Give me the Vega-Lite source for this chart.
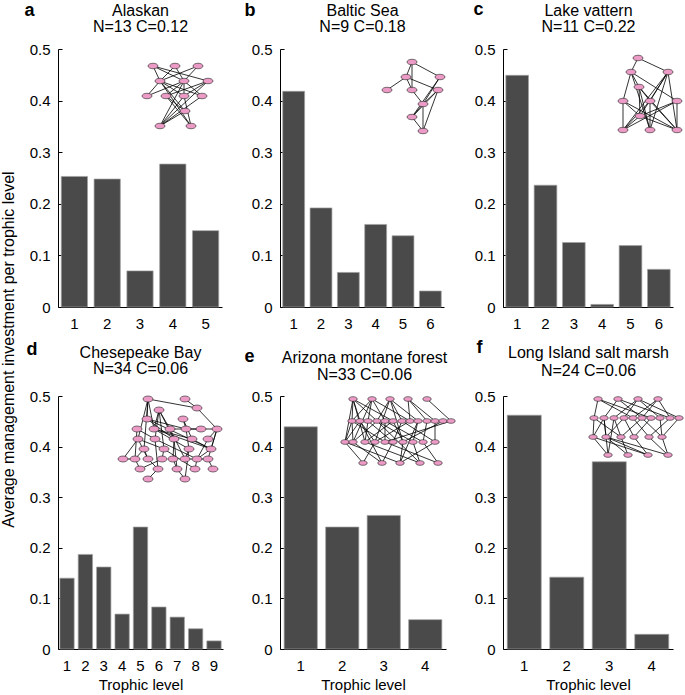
{
"$schema": "https://vega.github.io/schema/vega-lite/v6.json",
"padding": {"left": 0, "top": 0, "right": 4, "bottom": 4},
"background": "white",
"config": {
  "font": "Liberation Sans",
  "view": {"stroke": null},
  "axis": {"domainColor": "black", "labelColor": "black", "titleColor": "black", "tickColor": "black", "grid": false, "labelFontSize": 15, "titleFontSize": 15, "titleFontWeight": "normal"}
},
"datasets": {
  "bars": [
    {"p":"a","level":1,"v":0.253},{"p":"a","level":2,"v":0.248},{"p":"a","level":3,"v":0.070},{"p":"a","level":4,"v":0.277},{"p":"a","level":5,"v":0.148},
    {"p":"b","level":1,"v":0.418},{"p":"b","level":2,"v":0.192},{"p":"b","level":3,"v":0.067},{"p":"b","level":4,"v":0.160},{"p":"b","level":5,"v":0.138},{"p":"b","level":6,"v":0.031},
    {"p":"c","level":1,"v":0.449},{"p":"c","level":2,"v":0.236},{"p":"c","level":3,"v":0.125},{"p":"c","level":4,"v":0.005},{"p":"c","level":5,"v":0.119},{"p":"c","level":6,"v":0.073},
    {"p":"d","level":1,"v":0.140},{"p":"d","level":2,"v":0.187},{"p":"d","level":3,"v":0.162},{"p":"d","level":4,"v":0.069},{"p":"d","level":5,"v":0.241},{"p":"d","level":6,"v":0.083},{"p":"d","level":7,"v":0.063},{"p":"d","level":8,"v":0.040},{"p":"d","level":9,"v":0.016},
    {"p":"e","level":1,"v":0.439},{"p":"e","level":2,"v":0.241},{"p":"e","level":3,"v":0.264},{"p":"e","level":4,"v":0.058},
    {"p":"f","level":1,"v":0.462},{"p":"f","level":2,"v":0.142},{"p":"f","level":3,"v":0.370},{"p":"f","level":4,"v":0.029}
  ],
  "nodes": [
    {"p":"a","id":"a0","x":15,"y":9},{"p":"a","id":"a1","x":37,"y":9},{"p":"a","id":"a2","x":60,"y":9},
    {"p":"a","id":"a3","x":22,"y":24},{"p":"a","id":"a4","x":46,"y":24},{"p":"a","id":"a5","x":70,"y":24},
    {"p":"a","id":"a6","x":9,"y":39},{"p":"a","id":"a7","x":28,"y":39},{"p":"a","id":"a8","x":46,"y":39},{"p":"a","id":"a9","x":64,"y":39},
    {"p":"a","id":"a10","x":47,"y":54},{"p":"a","id":"a11","x":22,"y":69},{"p":"a","id":"a12","x":53,"y":69},
    {"p":"b","id":"b0","x":35,"y":7},{"p":"b","id":"b1","x":29,"y":22},{"p":"b","id":"b2","x":63,"y":22},
    {"p":"b","id":"b3","x":10,"y":35},{"p":"b","id":"b4","x":35,"y":35},{"p":"b","id":"b5","x":61,"y":35},
    {"p":"b","id":"b6","x":46,"y":49},{"p":"b","id":"b7","x":35,"y":62},{"p":"b","id":"b8","x":46,"y":76},
    {"p":"c","id":"c0","x":27,"y":9},{"p":"c","id":"c1","x":20,"y":23},{"p":"c","id":"c2","x":57,"y":23},
    {"p":"c","id":"c3","x":28,"y":38},{"p":"c","id":"c4","x":12,"y":52},{"p":"c","id":"c5","x":39,"y":52},{"p":"c","id":"c6","x":66,"y":52},
    {"p":"c","id":"c7","x":29,"y":67},{"p":"c","id":"c8","x":12,"y":81},{"p":"c","id":"c9","x":39,"y":81},{"p":"c","id":"c10","x":66,"y":81},
    {"p":"d","id":"d0","x":148,"y":60},{"p":"d","id":"d1","x":185,"y":60},{"p":"d","id":"d2","x":159,"y":71},{"p":"d","id":"d3","x":197,"y":69},
    {"p":"d","id":"d4","x":147,"y":80},{"p":"d","id":"d5","x":183,"y":80},
    {"p":"d","id":"d6","x":137,"y":90},{"p":"d","id":"d7","x":154,"y":90},{"p":"d","id":"d8","x":170,"y":90},{"p":"d","id":"d9","x":186,"y":90},{"p":"d","id":"d10","x":201,"y":90},{"p":"d","id":"d11","x":217,"y":90},
    {"p":"d","id":"d12","x":138,"y":100},{"p":"d","id":"d13","x":155,"y":100},{"p":"d","id":"d14","x":174,"y":100},{"p":"d","id":"d15","x":192,"y":100},{"p":"d","id":"d34","x":208,"y":100},
    {"p":"d","id":"d16","x":144,"y":110},{"p":"d","id":"d17","x":164,"y":110},{"p":"d","id":"d18","x":189,"y":110},{"p":"d","id":"d19","x":211,"y":110},
    {"p":"d","id":"d20","x":123,"y":120},{"p":"d","id":"d21","x":135,"y":120},{"p":"d","id":"d22","x":148,"y":120},{"p":"d","id":"d23","x":162,"y":120},{"p":"d","id":"d24","x":173,"y":120},{"p":"d","id":"d25","x":185,"y":120},{"p":"d","id":"d26","x":197,"y":120},{"p":"d","id":"d27","x":208,"y":120},
    {"p":"d","id":"d28","x":140,"y":130},{"p":"d","id":"d29","x":158,"y":130},{"p":"d","id":"d30","x":177,"y":130},{"p":"d","id":"d31","x":195,"y":130},{"p":"d","id":"d35","x":213,"y":130},
    {"p":"d","id":"d32","x":148,"y":140},{"p":"d","id":"d33","x":185,"y":140},
    {"p":"e","id":"e0","x":18,"y":7},{"p":"e","id":"e1","x":37,"y":7},{"p":"e","id":"e2","x":55,"y":7},{"p":"e","id":"e3","x":73,"y":7},{"p":"e","id":"e4","x":92,"y":7},
    {"p":"e","id":"e5","x":17,"y":29},{"p":"e","id":"e6","x":25,"y":29},{"p":"e","id":"e7","x":33,"y":29},{"p":"e","id":"e8","x":42,"y":29},{"p":"e","id":"e9","x":50,"y":29},{"p":"e","id":"e10","x":58,"y":29},{"p":"e","id":"e11","x":67,"y":29},{"p":"e","id":"e12","x":75,"y":29},{"p":"e","id":"e13","x":83,"y":29},{"p":"e","id":"e14","x":92,"y":29},{"p":"e","id":"e15","x":100,"y":29},{"p":"e","id":"e16","x":108,"y":29},{"p":"e","id":"e17","x":116,"y":29},
    {"p":"e","id":"e18","x":10,"y":50},{"p":"e","id":"e19","x":18,"y":50},{"p":"e","id":"e20","x":30,"y":50},{"p":"e","id":"e21","x":40,"y":50},{"p":"e","id":"e22","x":50,"y":50},{"p":"e","id":"e23","x":58,"y":50},{"p":"e","id":"e24","x":68,"y":50},{"p":"e","id":"e25","x":78,"y":50},{"p":"e","id":"e26","x":88,"y":50},{"p":"e","id":"e27","x":100,"y":50},
    {"p":"e","id":"e28","x":28,"y":71},{"p":"e","id":"e29","x":47,"y":71},{"p":"e","id":"e30","x":65,"y":71},{"p":"e","id":"e31","x":85,"y":71},{"p":"e","id":"e32","x":103,"y":71},
    {"p":"f","id":"f0","x":15,"y":7},{"p":"f","id":"f1","x":35,"y":7},{"p":"f","id":"f2","x":55,"y":7},{"p":"f","id":"f3","x":75,"y":7},
    {"p":"f","id":"f4","x":11,"y":26},{"p":"f","id":"f5","x":21,"y":26},{"p":"f","id":"f6","x":31,"y":26},{"p":"f","id":"f7","x":41,"y":26},{"p":"f","id":"f8","x":50,"y":26},{"p":"f","id":"f9","x":59,"y":26},{"p":"f","id":"f10","x":68,"y":26},{"p":"f","id":"f11","x":77,"y":26},{"p":"f","id":"f12","x":87,"y":26},{"p":"f","id":"f13","x":96,"y":26},
    {"p":"f","id":"f14","x":10,"y":45},{"p":"f","id":"f15","x":23,"y":45},{"p":"f","id":"f16","x":38,"y":45},{"p":"f","id":"f17","x":51,"y":45},{"p":"f","id":"f18","x":66,"y":45},{"p":"f","id":"f19","x":79,"y":45},
    {"p":"f","id":"f20","x":25,"y":63},{"p":"f","id":"f21","x":45,"y":63},{"p":"f","id":"f22","x":65,"y":63},{"p":"f","id":"f23","x":85,"y":63}
  ],
  "edges": [
    {"p":"a","s":"a0","t":"a3"},{"p":"a","s":"a0","t":"a4"},{"p":"a","s":"a0","t":"a5"},{"p":"a","s":"a1","t":"a3"},{"p":"a","s":"a1","t":"a4"},{"p":"a","s":"a2","t":"a4"},{"p":"a","s":"a2","t":"a3"},{"p":"a","s":"a3","t":"a6"},{"p":"a","s":"a3","t":"a8"},{"p":"a","s":"a3","t":"a9"},{"p":"a","s":"a3","t":"a10"},{"p":"a","s":"a4","t":"a7"},{"p":"a","s":"a4","t":"a8"},{"p":"a","s":"a4","t":"a11"},{"p":"a","s":"a4","t":"a9"},{"p":"a","s":"a5","t":"a7"},{"p":"a","s":"a5","t":"a8"},{"p":"a","s":"a5","t":"a11"},{"p":"a","s":"a7","t":"a10"},{"p":"a","s":"a7","t":"a12"},{"p":"a","s":"a8","t":"a11"},{"p":"a","s":"a8","t":"a12"},{"p":"a","s":"a9","t":"a11"},{"p":"a","s":"a10","t":"a11"},{"p":"a","s":"a6","t":"a4"},{"p":"a","s":"a3","t":"a12"},
    {"p":"b","s":"b0","t":"b1"},{"p":"b","s":"b0","t":"b2"},{"p":"b","s":"b0","t":"b4"},{"p":"b","s":"b1","t":"b3"},{"p":"b","s":"b1","t":"b4"},{"p":"b","s":"b1","t":"b5"},{"p":"b","s":"b2","t":"b6"},{"p":"b","s":"b2","t":"b7"},{"p":"b","s":"b4","t":"b6"},{"p":"b","s":"b5","t":"b6"},{"p":"b","s":"b5","t":"b7"},{"p":"b","s":"b5","t":"b8"},{"p":"b","s":"b6","t":"b8"},{"p":"b","s":"b7","t":"b8"},{"p":"b","s":"b6","t":"b7"},
    {"p":"c","s":"c0","t":"c1"},{"p":"c","s":"c0","t":"c2"},{"p":"c","s":"c1","t":"c3"},{"p":"c","s":"c1","t":"c4"},{"p":"c","s":"c1","t":"c6"},{"p":"c","s":"c1","t":"c9"},{"p":"c","s":"c2","t":"c7"},{"p":"c","s":"c2","t":"c8"},{"p":"c","s":"c2","t":"c9"},{"p":"c","s":"c2","t":"c10"},{"p":"c","s":"c2","t":"c5"},{"p":"c","s":"c3","t":"c5"},{"p":"c","s":"c3","t":"c7"},{"p":"c","s":"c3","t":"c10"},{"p":"c","s":"c3","t":"c9"},{"p":"c","s":"c4","t":"c8"},{"p":"c","s":"c4","t":"c7"},{"p":"c","s":"c4","t":"c10"},{"p":"c","s":"c5","t":"c8"},{"p":"c","s":"c5","t":"c9"},{"p":"c","s":"c5","t":"c10"},{"p":"c","s":"c6","t":"c7"},{"p":"c","s":"c6","t":"c10"},{"p":"c","s":"c7","t":"c8"},{"p":"c","s":"c7","t":"c10"},{"p":"c","s":"c8","t":"c6"},
    {"p":"d","s":"d0","t":"d3"},{"p":"d","s":"d0","t":"d4"},{"p":"d","s":"d0","t":"d7"},{"p":"d","s":"d0","t":"d12"},{"p":"d","s":"d0","t":"d16"},{"p":"d","s":"d1","t":"d3"},{"p":"d","s":"d2","t":"d7"},{"p":"d","s":"d2","t":"d8"},{"p":"d","s":"d2","t":"d14"},{"p":"d","s":"d2","t":"d17"},{"p":"d","s":"d2","t":"d13"},{"p":"d","s":"d3","t":"d11"},{"p":"d","s":"d4","t":"d9"},{"p":"d","s":"d4","t":"d14"},{"p":"d","s":"d5","t":"d9"},{"p":"d","s":"d5","t":"d15"},{"p":"d","s":"d6","t":"d13"},{"p":"d","s":"d6","t":"d21"},{"p":"d","s":"d7","t":"d18"},{"p":"d","s":"d7","t":"d19"},{"p":"d","s":"d8","t":"d10"},{"p":"d","s":"d8","t":"d25"},{"p":"d","s":"d9","t":"d10"},{"p":"d","s":"d10","t":"d11"},{"p":"d","s":"d11","t":"d19"},{"p":"d","s":"d11","t":"d27"},{"p":"d","s":"d12","t":"d22"},{"p":"d","s":"d12","t":"d20"},{"p":"d","s":"d13","t":"d26"},{"p":"d","s":"d13","t":"d29"},{"p":"d","s":"d14","t":"d24"},{"p":"d","s":"d14","t":"d30"},{"p":"d","s":"d15","t":"d19"},{"p":"d","s":"d16","t":"d21"},{"p":"d","s":"d16","t":"d22"},{"p":"d","s":"d17","t":"d23"},{"p":"d","s":"d17","t":"d31"},{"p":"d","s":"d18","t":"d25"},{"p":"d","s":"d18","t":"d33"},{"p":"d","s":"d19","t":"d26"},{"p":"d","s":"d20","t":"d21"},{"p":"d","s":"d22","t":"d29"},{"p":"d","s":"d23","t":"d28"},{"p":"d","s":"d24","t":"d30"},{"p":"d","s":"d25","t":"d26"},{"p":"d","s":"d26","t":"d31"},{"p":"d","s":"d27","t":"d26"},{"p":"d","s":"d29","t":"d32"},{"p":"d","s":"d30","t":"d33"},{"p":"d","s":"d28","t":"d21"},{"p":"d","s":"d9","t":"d18"},{"p":"d","s":"d4","t":"d19"},{"p":"d","s":"d7","t":"d15"},{"p":"d","s":"d12","t":"d17"},{"p":"d","s":"d34","t":"d11"},{"p":"d","s":"d35","t":"d27"},{"p":"d","s":"d34","t":"d26"},
    {"p":"e","s":"e0","t":"e5"},{"p":"e","s":"e0","t":"e6"},{"p":"e","s":"e0","t":"e8"},{"p":"e","s":"e0","t":"e10"},{"p":"e","s":"e0","t":"e18"},{"p":"e","s":"e0","t":"e20"},{"p":"e","s":"e1","t":"e5"},{"p":"e","s":"e1","t":"e7"},{"p":"e","s":"e1","t":"e9"},{"p":"e","s":"e1","t":"e12"},{"p":"e","s":"e1","t":"e19"},{"p":"e","s":"e2","t":"e8"},{"p":"e","s":"e2","t":"e11"},{"p":"e","s":"e2","t":"e13"},{"p":"e","s":"e2","t":"e21"},{"p":"e","s":"e2","t":"e24"},{"p":"e","s":"e3","t":"e12"},{"p":"e","s":"e3","t":"e14"},{"p":"e","s":"e3","t":"e15"},{"p":"e","s":"e4","t":"e17"},{"p":"e","s":"e5","t":"e18"},{"p":"e","s":"e5","t":"e19"},{"p":"e","s":"e5","t":"e22"},{"p":"e","s":"e6","t":"e18"},{"p":"e","s":"e6","t":"e21"},{"p":"e","s":"e7","t":"e20"},{"p":"e","s":"e7","t":"e23"},{"p":"e","s":"e8","t":"e19"},{"p":"e","s":"e8","t":"e25"},{"p":"e","s":"e9","t":"e22"},{"p":"e","s":"e9","t":"e26"},{"p":"e","s":"e10","t":"e20"},{"p":"e","s":"e10","t":"e24"},{"p":"e","s":"e11","t":"e23"},{"p":"e","s":"e11","t":"e27"},{"p":"e","s":"e12","t":"e21"},{"p":"e","s":"e13","t":"e25"},{"p":"e","s":"e14","t":"e26"},{"p":"e","s":"e15","t":"e27"},{"p":"e","s":"e16","t":"e24"},{"p":"e","s":"e17","t":"e22"},{"p":"e","s":"e18","t":"e28"},{"p":"e","s":"e18","t":"e30"},{"p":"e","s":"e19","t":"e29"},{"p":"e","s":"e20","t":"e31"},{"p":"e","s":"e21","t":"e28"},{"p":"e","s":"e22","t":"e32"},{"p":"e","s":"e23","t":"e29"},{"p":"e","s":"e24","t":"e30"},{"p":"e","s":"e25","t":"e31"},{"p":"e","s":"e26","t":"e32"},{"p":"e","s":"e27","t":"e30"},{"p":"e","s":"e6","t":"e29"},{"p":"e","s":"e8","t":"e31"},{"p":"e","s":"e13","t":"e30"},
    {"p":"f","s":"f0","t":"f4"},{"p":"f","s":"f0","t":"f8"},{"p":"f","s":"f0","t":"f10"},{"p":"f","s":"f1","t":"f5"},{"p":"f","s":"f1","t":"f9"},{"p":"f","s":"f1","t":"f12"},{"p":"f","s":"f2","t":"f7"},{"p":"f","s":"f2","t":"f11"},{"p":"f","s":"f2","t":"f13"},{"p":"f","s":"f2","t":"f6"},{"p":"f","s":"f3","t":"f9"},{"p":"f","s":"f3","t":"f12"},{"p":"f","s":"f3","t":"f8"},{"p":"f","s":"f4","t":"f14"},{"p":"f","s":"f5","t":"f15"},{"p":"f","s":"f5","t":"f14"},{"p":"f","s":"f6","t":"f16"},{"p":"f","s":"f6","t":"f20"},{"p":"f","s":"f7","t":"f15"},{"p":"f","s":"f7","t":"f17"},{"p":"f","s":"f8","t":"f18"},{"p":"f","s":"f9","t":"f16"},{"p":"f","s":"f9","t":"f19"},{"p":"f","s":"f10","t":"f17"},{"p":"f","s":"f11","t":"f19"},{"p":"f","s":"f12","t":"f18"},{"p":"f","s":"f13","t":"f19"},{"p":"f","s":"f14","t":"f20"},{"p":"f","s":"f15","t":"f21"},{"p":"f","s":"f15","t":"f22"},{"p":"f","s":"f16","t":"f21"},{"p":"f","s":"f17","t":"f22"},{"p":"f","s":"f18","t":"f23"},{"p":"f","s":"f19","t":"f23"},{"p":"f","s":"f5","t":"f20"},{"p":"f","s":"f4","t":"f16"},{"p":"f","s":"f14","t":"f22"},{"p":"f","s":"f15","t":"f23"}
  ]
},
"bounds": "flush",
"columns": 3,
"spacing": {"row": 89, "column": 57},
"concat": [
  {"width": 164, "height": 258,
   "layer": [
    {"data": {"name": "bars"}, "transform": [{"filter": "datum.p == 'a'"}],
     "mark": {"type": "bar", "fill": "#4a4a4a", "stroke": "#a0a0a0", "strokeWidth": 0.7},
     "encoding": {
      "x": {"field": "level", "type": "ordinal", "scale": {"paddingInner": 0.2, "paddingOuter": 0.1}, "axis": {"title": null, "labelAngle": 0, "ticks": false, "labelPadding": 9}},
      "y": {"field": "v", "type": "quantitative", "scale": {"domain": [0, 0.5], "nice": false}, "axis": {"values": [0, 0.1, 0.2, 0.3, 0.4, 0.5], "format": ".1~f", "tickSize": -4, "labelPadding": 12, "title": "Average management investment per trophic level", "titleX": -50, "titleY": 300, "titleAngle": 270, "titleAlign": "center", "titleBaseline": "middle", "titleFontSize": 16}}}},
    {"data": {"name": "edges"}, "transform": [{"filter": "datum.p == 'a'"}, {"lookup": "s", "from": {"data": {"name": "nodes"}, "key": "id", "fields": ["x", "y"]}, "as": ["sx", "sy"]}, {"lookup": "t", "from": {"data": {"name": "nodes"}, "key": "id", "fields": ["x", "y"]}, "as": ["tx", "ty"]}],
     "mark": {"type": "rule", "color": "black", "strokeWidth": 0.8},
     "encoding": {"x": {"field": "sx", "type": "quantitative", "scale": {"domain": [-80, 84], "nice": false, "zero": false}, "axis": null}, "y": {"field": "sy", "type": "quantitative", "scale": {"domain": [-8, 250], "nice": false, "zero": false, "reverse": true}, "axis": null}, "x2": {"field": "tx"}, "y2": {"field": "ty"}}},
    {"data": {"name": "nodes"}, "transform": [{"filter": "datum.p == 'a'"}],
     "mark": {"type": "point", "shape": "M-1,0A1,0.55,0,1,1,1,0A1,0.55,0,1,1,-1,0Z", "filled": true, "fill": "#ec9ac6", "stroke": "#222222", "strokeWidth": 0.6, "size": 100, "opacity": 1},
     "encoding": {"x": {"field": "x", "type": "quantitative", "scale": {"domain": [-80, 84], "nice": false, "zero": false}, "axis": {"orient": "top", "title": ["Alaskan", "N=13 C=0.12"], "labels": false, "ticks": false, "domain": false, "titleX": 82, "titleY": -33.5, "titleAngle": 0, "titleAlign": "center", "titleBaseline": "alphabetic", "titleFontSize": 16, "titleLineHeight": 16}}, "y": {"field": "y", "type": "quantitative", "scale": {"domain": [-8, 250], "nice": false, "zero": false, "reverse": true}, "axis": {"orient": "left", "title": "a", "labels": false, "ticks": false, "domain": false, "titleX": -34, "titleY": -34, "titleAngle": 0, "titleAlign": "left", "titleBaseline": "alphabetic", "titleFontSize": 18, "titleFontWeight": "bold"}}}}
   ],
   "resolve": {"scale": {"x": "independent", "y": "independent"}}},
  {"width": 164, "height": 258,
   "layer": [
    {"data": {"name": "bars"}, "transform": [{"filter": "datum.p == 'b'"}],
     "mark": {"type": "bar", "fill": "#4a4a4a", "stroke": "#a0a0a0", "strokeWidth": 0.7},
     "encoding": {
      "x": {"field": "level", "type": "ordinal", "scale": {"paddingInner": 0.2, "paddingOuter": 0.1}, "axis": {"title": null, "labelAngle": 0, "ticks": false, "labelPadding": 9}},
      "y": {"field": "v", "type": "quantitative", "scale": {"domain": [0, 0.5], "nice": false}, "axis": {"values": [0, 0.1, 0.2, 0.3, 0.4, 0.5], "format": ".1~f", "tickSize": -4, "labelPadding": 12, "title": null}}}},
    {"data": {"name": "edges"}, "transform": [{"filter": "datum.p == 'b'"}, {"lookup": "s", "from": {"data": {"name": "nodes"}, "key": "id", "fields": ["x", "y"]}, "as": ["sx", "sy"]}, {"lookup": "t", "from": {"data": {"name": "nodes"}, "key": "id", "fields": ["x", "y"]}, "as": ["tx", "ty"]}],
     "mark": {"type": "rule", "color": "black", "strokeWidth": 0.8},
     "encoding": {"x": {"field": "sx", "type": "quantitative", "scale": {"domain": [-97, 67], "nice": false, "zero": false}, "axis": null}, "y": {"field": "sy", "type": "quantitative", "scale": {"domain": [-6, 252], "nice": false, "zero": false, "reverse": true}, "axis": null}, "x2": {"field": "tx"}, "y2": {"field": "ty"}}},
    {"data": {"name": "nodes"}, "transform": [{"filter": "datum.p == 'b'"}],
     "mark": {"type": "point", "shape": "M-1,0A1,0.55,0,1,1,1,0A1,0.55,0,1,1,-1,0Z", "filled": true, "fill": "#ec9ac6", "stroke": "#222222", "strokeWidth": 0.6, "size": 100, "opacity": 1},
     "encoding": {"x": {"field": "x", "type": "quantitative", "scale": {"domain": [-97, 67], "nice": false, "zero": false}, "axis": {"orient": "top", "title": ["Baltic Sea", "N=9 C=0.18"], "labels": false, "ticks": false, "domain": false, "titleX": 82, "titleY": -33.5, "titleAngle": 0, "titleAlign": "center", "titleBaseline": "alphabetic", "titleFontSize": 16, "titleLineHeight": 16}}, "y": {"field": "y", "type": "quantitative", "scale": {"domain": [-6, 252], "nice": false, "zero": false, "reverse": true}, "axis": {"orient": "left", "title": "b", "labels": false, "ticks": false, "domain": false, "titleX": -36, "titleY": -34, "titleAngle": 0, "titleAlign": "left", "titleBaseline": "alphabetic", "titleFontSize": 18, "titleFontWeight": "bold"}}}}
   ],
   "resolve": {"scale": {"x": "independent", "y": "independent"}}},
  {"width": 170, "height": 258,
   "layer": [
    {"data": {"name": "bars"}, "transform": [{"filter": "datum.p == 'c'"}],
     "mark": {"type": "bar", "fill": "#4a4a4a", "stroke": "#a0a0a0", "strokeWidth": 0.7},
     "encoding": {
      "x": {"field": "level", "type": "ordinal", "scale": {"paddingInner": 0.2, "paddingOuter": 0.1}, "axis": {"title": null, "labelAngle": 0, "ticks": false, "labelPadding": 9}},
      "y": {"field": "v", "type": "quantitative", "scale": {"domain": [0, 0.5], "nice": false}, "axis": {"values": [0, 0.1, 0.2, 0.3, 0.4, 0.5], "format": ".1~f", "tickSize": -4, "labelPadding": 12, "title": null}}}},
    {"data": {"name": "edges"}, "transform": [{"filter": "datum.p == 'c'"}, {"lookup": "s", "from": {"data": {"name": "nodes"}, "key": "id", "fields": ["x", "y"]}, "as": ["sx", "sy"]}, {"lookup": "t", "from": {"data": {"name": "nodes"}, "key": "id", "fields": ["x", "y"]}, "as": ["tx", "ty"]}],
     "mark": {"type": "rule", "color": "black", "strokeWidth": 0.8},
     "encoding": {"x": {"field": "sx", "type": "quantitative", "scale": {"domain": [-108, 62], "nice": false, "zero": false}, "axis": null}, "y": {"field": "sy", "type": "quantitative", "scale": {"domain": [0, 258], "nice": false, "zero": false, "reverse": true}, "axis": null}, "x2": {"field": "tx"}, "y2": {"field": "ty"}}},
    {"data": {"name": "nodes"}, "transform": [{"filter": "datum.p == 'c'"}],
     "mark": {"type": "point", "shape": "M-1,0A1,0.55,0,1,1,1,0A1,0.55,0,1,1,-1,0Z", "filled": true, "fill": "#ec9ac6", "stroke": "#222222", "strokeWidth": 0.6, "size": 100, "opacity": 1},
     "encoding": {"x": {"field": "x", "type": "quantitative", "scale": {"domain": [-108, 62], "nice": false, "zero": false}, "axis": {"orient": "top", "title": ["Lake vattern", "N=11 C=0.22"], "labels": false, "ticks": false, "domain": false, "titleX": 85, "titleY": -33.5, "titleAngle": 0, "titleAlign": "center", "titleBaseline": "alphabetic", "titleFontSize": 16, "titleLineHeight": 16}}, "y": {"field": "y", "type": "quantitative", "scale": {"domain": [0, 258], "nice": false, "zero": false, "reverse": true}, "axis": {"orient": "left", "title": "c", "labels": false, "ticks": false, "domain": false, "titleX": -30, "titleY": -35, "titleAngle": 0, "titleAlign": "left", "titleBaseline": "alphabetic", "titleFontSize": 18, "titleFontWeight": "bold"}}}}
   ],
   "resolve": {"scale": {"x": "independent", "y": "independent"}}},
  {"width": 165, "height": 253,
   "layer": [
    {"data": {"name": "bars"}, "transform": [{"filter": "datum.p == 'd'"}],
     "mark": {"type": "bar", "fill": "#4a4a4a", "stroke": "#a0a0a0", "strokeWidth": 0.7},
     "encoding": {
      "x": {"field": "level", "type": "ordinal", "scale": {"paddingInner": 0.22, "paddingOuter": 0.1}, "axis": {"title": "Trophic level", "titlePadding": 4, "labelAngle": 0, "ticks": false, "labelPadding": 9}},
      "y": {"field": "v", "type": "quantitative", "scale": {"domain": [0, 0.5], "nice": false}, "axis": {"values": [0, 0.1, 0.2, 0.3, 0.4, 0.5], "format": ".1~f", "tickSize": -4, "labelPadding": 12, "title": null}}}},
    {"data": {"name": "edges"}, "transform": [{"filter": "datum.p == 'd'"}, {"lookup": "s", "from": {"data": {"name": "nodes"}, "key": "id", "fields": ["x", "y"]}, "as": ["sx", "sy"]}, {"lookup": "t", "from": {"data": {"name": "nodes"}, "key": "id", "fields": ["x", "y"]}, "as": ["tx", "ty"]}],
     "mark": {"type": "rule", "color": "black", "strokeWidth": 0.8},
     "encoding": {"x": {"field": "sx", "type": "quantitative", "scale": {"domain": [58, 223], "nice": false, "zero": false}, "axis": null}, "y": {"field": "sy", "type": "quantitative", "scale": {"domain": [57, 310], "nice": false, "zero": false, "reverse": true}, "axis": null}, "x2": {"field": "tx"}, "y2": {"field": "ty"}}},
    {"data": {"name": "nodes"}, "transform": [{"filter": "datum.p == 'd'"}],
     "mark": {"type": "point", "shape": "M-1,0A1,0.6,0,1,1,1,0A1,0.6,0,1,1,-1,0Z", "filled": true, "fill": "#ec9ac6", "stroke": "#222222", "strokeWidth": 0.6, "size": 100, "opacity": 1},
     "encoding": {"x": {"field": "x", "type": "quantitative", "scale": {"domain": [58, 223], "nice": false, "zero": false}, "axis": {"orient": "top", "title": ["Chesepeake Bay", "N=34 C=0.06"], "labels": false, "ticks": false, "domain": false, "titleX": 82, "titleY": -39, "titleAngle": 0, "titleAlign": "center", "titleBaseline": "alphabetic", "titleFontSize": 16, "titleLineHeight": 16}}, "y": {"field": "y", "type": "quantitative", "scale": {"domain": [57, 310], "nice": false, "zero": false, "reverse": true}, "axis": {"orient": "left", "title": "d", "labels": false, "ticks": false, "domain": false, "titleX": -32, "titleY": -42, "titleAngle": 0, "titleAlign": "left", "titleBaseline": "alphabetic", "titleFontSize": 18, "titleFontWeight": "bold"}}}}
   ],
   "resolve": {"scale": {"x": "independent", "y": "independent"}}},
  {"width": 166, "height": 253,
   "layer": [
    {"data": {"name": "bars"}, "transform": [{"filter": "datum.p == 'e'"}],
     "mark": {"type": "bar", "fill": "#4a4a4a", "stroke": "#a0a0a0", "strokeWidth": 0.7},
     "encoding": {
      "x": {"field": "level", "type": "ordinal", "scale": {"paddingInner": 0.2, "paddingOuter": 0.1}, "axis": {"title": "Trophic level", "titlePadding": 4, "labelAngle": 0, "ticks": false, "labelPadding": 9}},
      "y": {"field": "v", "type": "quantitative", "scale": {"domain": [0, 0.5], "nice": false}, "axis": {"values": [0, 0.1, 0.2, 0.3, 0.4, 0.5], "format": ".1~f", "tickSize": -4, "labelPadding": 12, "title": null}}}},
    {"data": {"name": "edges"}, "transform": [{"filter": "datum.p == 'e'"}, {"lookup": "s", "from": {"data": {"name": "nodes"}, "key": "id", "fields": ["x", "y"]}, "as": ["sx", "sy"]}, {"lookup": "t", "from": {"data": {"name": "nodes"}, "key": "id", "fields": ["x", "y"]}, "as": ["tx", "ty"]}],
     "mark": {"type": "rule", "color": "black", "strokeWidth": 0.8},
     "encoding": {"x": {"field": "sx", "type": "quantitative", "scale": {"domain": [-55, 111], "nice": false, "zero": false}, "axis": null}, "y": {"field": "sy", "type": "quantitative", "scale": {"domain": [4, 257], "nice": false, "zero": false, "reverse": true}, "axis": null}, "x2": {"field": "tx"}, "y2": {"field": "ty"}}},
    {"data": {"name": "nodes"}, "transform": [{"filter": "datum.p == 'e'"}],
     "mark": {"type": "point", "shape": "M-1,0A1,0.55,0,1,1,1,0A1,0.55,0,1,1,-1,0Z", "filled": true, "fill": "#ec9ac6", "stroke": "#222222", "strokeWidth": 0.6, "size": 72, "opacity": 1},
     "encoding": {"x": {"field": "x", "type": "quantitative", "scale": {"domain": [-55, 111], "nice": false, "zero": false}, "axis": {"orient": "top", "title": ["Arizona montane forest", "N=33 C=0.06"], "labels": false, "ticks": false, "domain": false, "titleX": 84, "titleY": -34, "titleAngle": 0, "titleAlign": "center", "titleBaseline": "alphabetic", "titleFontSize": 16, "titleLineHeight": 17}}, "y": {"field": "y", "type": "quantitative", "scale": {"domain": [4, 257], "nice": false, "zero": false, "reverse": true}, "axis": {"orient": "left", "title": "e", "labels": false, "ticks": false, "domain": false, "titleX": -36, "titleY": -35, "titleAngle": 0, "titleAlign": "left", "titleBaseline": "alphabetic", "titleFontSize": 18, "titleFontWeight": "bold"}}}}
   ],
   "resolve": {"scale": {"x": "independent", "y": "independent"}}},
  {"width": 170, "height": 253,
   "layer": [
    {"data": {"name": "bars"}, "transform": [{"filter": "datum.p == 'f'"}],
     "mark": {"type": "bar", "fill": "#4a4a4a", "stroke": "#a0a0a0", "strokeWidth": 0.7},
     "encoding": {
      "x": {"field": "level", "type": "ordinal", "scale": {"paddingInner": 0.2, "paddingOuter": 0.1}, "axis": {"title": "Trophic level", "titlePadding": 4, "labelAngle": 0, "ticks": false, "labelPadding": 9}},
      "y": {"field": "v", "type": "quantitative", "scale": {"domain": [0, 0.5], "nice": false}, "axis": {"values": [0, 0.1, 0.2, 0.3, 0.4, 0.5], "format": ".1~f", "tickSize": -4, "labelPadding": 12, "title": null}}}},
    {"data": {"name": "edges"}, "transform": [{"filter": "datum.p == 'f'"}, {"lookup": "s", "from": {"data": {"name": "nodes"}, "key": "id", "fields": ["x", "y"]}, "as": ["sx", "sy"]}, {"lookup": "t", "from": {"data": {"name": "nodes"}, "key": "id", "fields": ["x", "y"]}, "as": ["tx", "ty"]}],
     "mark": {"type": "rule", "color": "black", "strokeWidth": 0.8},
     "encoding": {"x": {"field": "sx", "type": "quantitative", "scale": {"domain": [-80, 90], "nice": false, "zero": false}, "axis": null}, "y": {"field": "sy", "type": "quantitative", "scale": {"domain": [4, 257], "nice": false, "zero": false, "reverse": true}, "axis": null}, "x2": {"field": "tx"}, "y2": {"field": "ty"}}},
    {"data": {"name": "nodes"}, "transform": [{"filter": "datum.p == 'f'"}],
     "mark": {"type": "point", "shape": "M-1,0A1,0.55,0,1,1,1,0A1,0.55,0,1,1,-1,0Z", "filled": true, "fill": "#ec9ac6", "stroke": "#222222", "strokeWidth": 0.6, "size": 72, "opacity": 1},
     "encoding": {"x": {"field": "x", "type": "quantitative", "scale": {"domain": [-80, 90], "nice": false, "zero": false}, "axis": {"orient": "top", "title": ["Long Island salt marsh", "N=24 C=0.06"], "labels": false, "ticks": false, "domain": false, "titleX": 85, "titleY": -39, "titleAngle": 0, "titleAlign": "center", "titleBaseline": "alphabetic", "titleFontSize": 16, "titleLineHeight": 18}}, "y": {"field": "y", "type": "quantitative", "scale": {"domain": [4, 257], "nice": false, "zero": false, "reverse": true}, "axis": {"orient": "left", "title": "f", "labels": false, "ticks": false, "domain": false, "titleX": -27, "titleY": -44, "titleAngle": 0, "titleAlign": "left", "titleBaseline": "alphabetic", "titleFontSize": 18, "titleFontWeight": "bold"}}}}
   ],
   "resolve": {"scale": {"x": "independent", "y": "independent"}}}
]
}
